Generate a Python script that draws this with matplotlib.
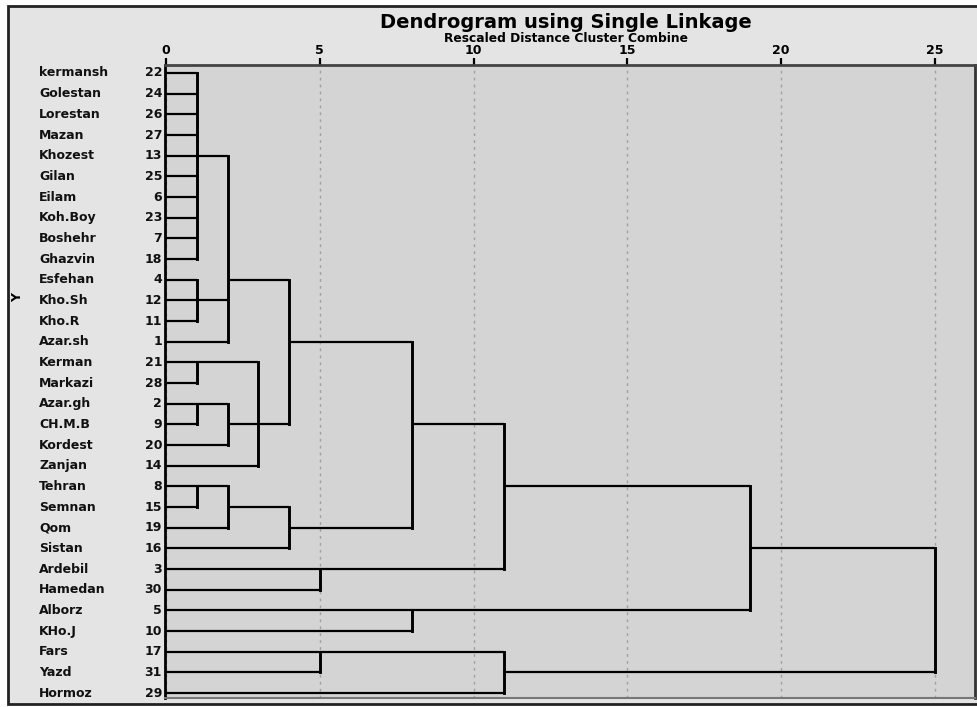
import matplotlib
matplotlib.use("Agg")
import matplotlib.pyplot as plt
from matplotlib.patches import Rectangle
from matplotlib.transforms import blended_transform_factory

# leaves, top to bottom
leaf_names = ["kermansh", "Golestan", "Lorestan", "Mazan", "Khozest", "Gilan", "Eilam",
              "Koh.Boy", "Boshehr", "Ghazvin", "Esfehan", "Kho.Sh", "Kho.R", "Azar.sh",
              "Kerman", "Markazi", "Azar.gh", "CH.M.B", "Kordest", "Zanjan", "Tehran",
              "Semnan", "Qom", "Sistan", "Ardebil", "Hamedan", "Alborz", "KHo.J",
              "Fars", "Yazd", "Hormoz"]
leaf_ids = [22, 24, 26, 27, 13, 25, 6, 23, 7, 18, 4, 12, 11, 1, 21, 28, 2, 9, 20, 14,
            8, 15, 19, 16, 3, 30, 5, 10, 17, 31, 29]
# merge each leaf first joins
leaf_parent = [0, 0, 0, 0, 0, 0, 0, 0, 0, 0, 1, 1, 1, 2, 3, 3, 4, 4, 5, 6,
               8, 8, 9, 10, 12, 12, 14, 14, 16, 16, 17]

# merges: rescaled distance, first/last row joined, row of outgoing line, parent merge
merge_height = [1, 1, 2, 1, 1, 2, 3, 4, 1, 2, 4, 8, 5, 11, 8, 19, 5, 11, 25]
merge_lo     = [0, 10, 4, 14, 16, 16, 14, 10, 20, 20, 21, 13, 24, 17, 26, 20, 28, 28, 23]
merge_hi     = [9, 12, 13, 15, 17, 18, 19, 17, 21, 22, 23, 22, 25, 24, 27, 26, 29, 30, 29]
merge_out    = [4, 11, 10, 14, 16, 17, 17, 13, 20, 21, 22, 17, 24, 20, 26, 23, 28, 29, None]
merge_parent = [2, 2, 7, 6, 5, 6, 7, 11, 9, 10, 11, 13, 13, 15, 15, 18, 17, 18, None]

x_ticks = [0, 5, 10, 15, 20, 25]

W, H = 977, 707
fig = plt.figure(figsize=(W / 100, H / 100), dpi=100)
fig.patch.set_facecolor("white")
fig.add_artist(Rectangle((8 / W, 1 - 704 / H), 990 / W, 698 / H, transform=fig.transFigure,
                         facecolor="#e4e4e4", edgecolor="#222222", lw=2, zorder=-10))

ax = fig.add_axes([165 / W, 1 - 698 / H, 810 / W, 633 / H])
ax.set_facecolor("#d4d4d4")
ax.set_xlim(-1 / 30.76, 810 / 30.76 - 1 / 30.76)
ax.set_ylim(30.24, -0.387)

ax.grid(axis="x", linestyle=(0, (2, 3)), color="#a0a0a0", lw=1)
ax.set_axisbelow(True)

lc = "black"
lw = 1.6
for r, p in enumerate(leaf_parent):
    ax.plot([0, merge_height[p]], [r, r], color=lc, lw=lw, solid_capstyle="butt")
for m, h in enumerate(merge_height):
    ax.plot([h, h], [merge_lo[m], merge_hi[m]], color=lc, lw=lw + 0.5, solid_capstyle="projecting")
    if merge_parent[m] is not None:
        ax.plot([h, merge_height[merge_parent[m]]], [merge_out[m], merge_out[m]],
                color=lc, lw=lw, solid_capstyle="butt")

ax.xaxis.tick_top()
ax.set_xticks(x_ticks)
ax.set_xticklabels([str(t) for t in x_ticks], fontweight="bold", fontsize=9)
ax.tick_params(axis="x", direction="out", length=5, width=1.6, pad=1, colors="black")
ax.set_yticks([])

ax.spines["left"].set_color("black")
ax.spines["left"].set_linewidth(2)
ax.spines["top"].set_color("#444444")
ax.spines["top"].set_linewidth(2)
ax.spines["right"].set_color("#333333")
ax.spines["right"].set_linewidth(2)
ax.spines["bottom"].set_color("#777777")
ax.spines["bottom"].set_linewidth(1.5)

tr = blended_transform_factory(fig.transFigure, ax.transData)
for r, (name, num) in enumerate(zip(leaf_names, leaf_ids)):
    ax.text(39 / W, r, name, transform=tr, ha="left", va="center",
            fontsize=9, fontweight="bold", color="#111111")
    ax.text(162 / W, r, str(num), transform=tr, ha="right", va="center",
            fontsize=9, fontweight="bold", color="#111111")

fig.text(18 / W, 1 - 298 / H, "Y", rotation=90, ha="center", va="center",
         fontsize=9, fontweight="bold")
fig.text(566 / W, 1 - 27.5 / H, "Dendrogram using Single Linkage", ha="center", va="baseline",
         fontsize=14, fontweight="bold")
fig.text(566 / W, 1 - 42 / H, "Rescaled Distance Cluster Combine", ha="center", va="baseline",
         fontsize=8.8, fontweight="bold")

fig.savefig("out.png", dpi=100)
